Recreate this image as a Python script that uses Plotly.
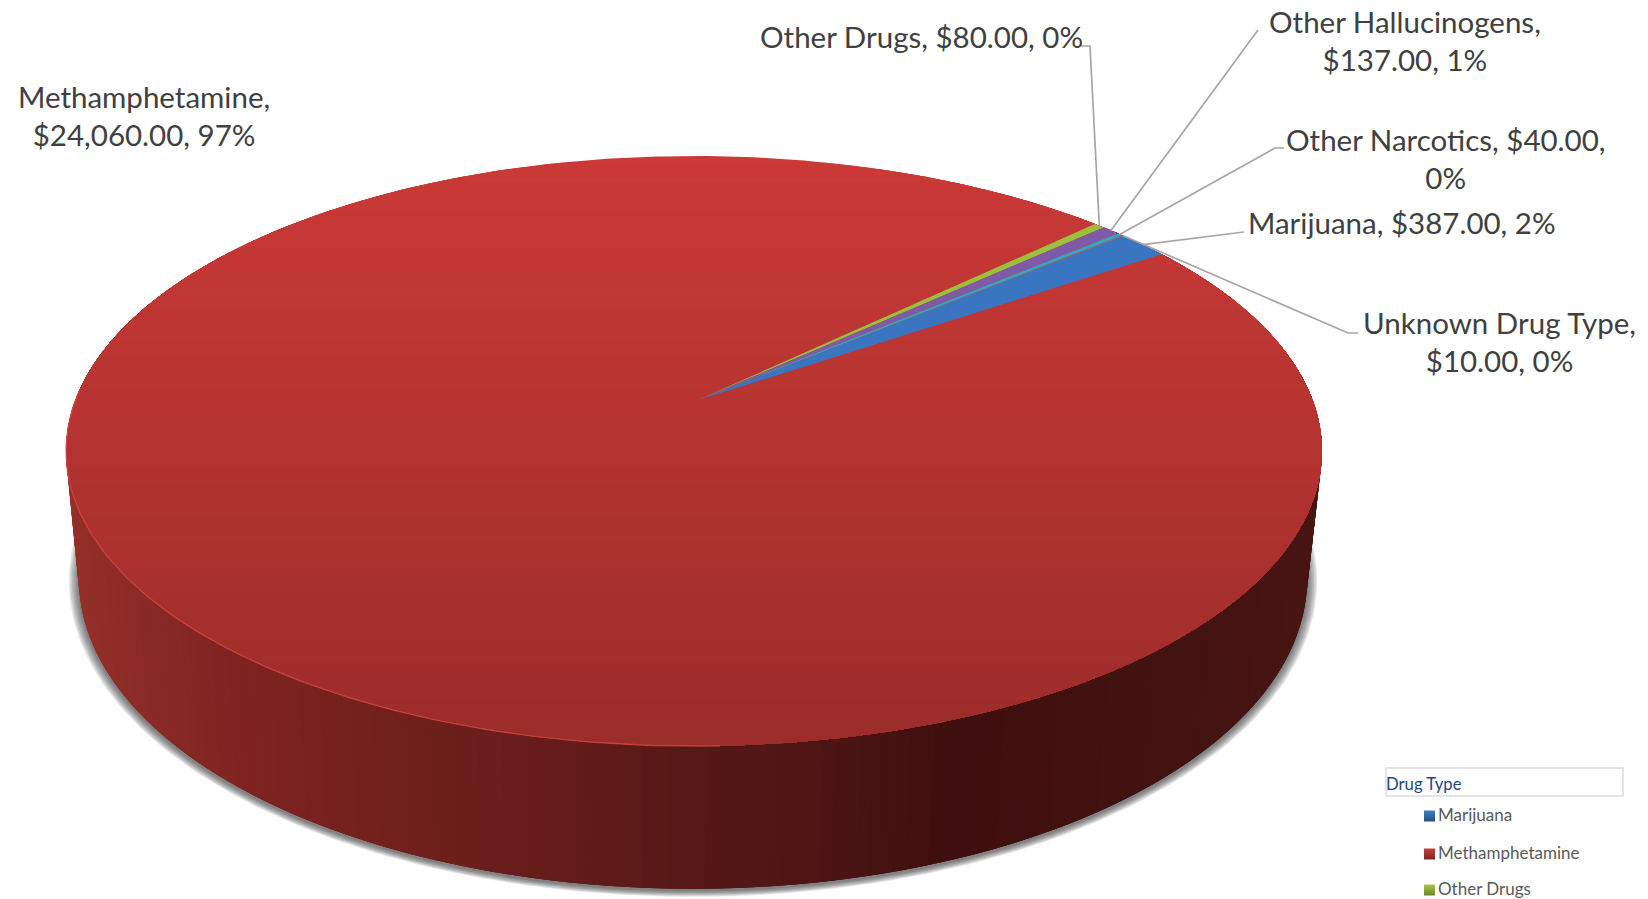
import numpy as np
import plotly.graph_objects as go

# ---- data ----
categories = ["Marijuana", "Methamphetamine", "Other Drugs", "Other Hallucinogens", "Other Narcotics", "Unknown Drug Type"]
amounts = [387, 24060, 80, 137, 40, 10]
percent_labels = ["2%", "97%", "0%", "1%", "0%", "0%"]
legend_items = ["Marijuana", "Methamphetamine", "Other Drugs"]
legend_title = "Drug Type"

# ---- styles and layout ----
W, H = 1648, 899
slice_colors = ["#3a75c2", "#bf3a37", "#9dc03c", "#7f5aa6", "#2fa9c8", "#d08a3e"]
legend_colors = ["#3f7fc4", "#c9403c", "#a6c84a"]
legend_dark = ["#23507f", "#7e2523", "#6c8428"]
first_angle = 50.4
APEX = (698.0, 400.0)
CX, CY_APEX = 694.0, 400.0
P, K, R = 0.1729, 286.2, 618.5
TOP_C = (694.0, 451.0)
BOT_C = (693.0, 579.0)
BOT_SX, BOT_SY = 0.978, 1.05

def rim(theta_deg):
    t = np.radians(np.asarray(theta_deg, float))
    u, v = np.sin(t), -np.cos(t)
    w = 1 - P * v
    return CX + R * u / w, CY_APEX + K * v / w

def bottom(theta_deg):
    x, y = rim(theta_deg)
    return BOT_C[0] + BOT_SX * (x - TOP_C[0]), BOT_C[1] + BOT_SY * (y - TOP_C[1])

fig = go.Figure()

def poly(xs, ys, color, name=None):
    fig.add_trace(go.Scatter(x=list(xs), y=list(ys), mode="lines", fill="toself", fillcolor=color,
                             line=dict(width=0), hoverinfo="skip", showlegend=False, name=name))

all_t = np.linspace(0, 360, 361)

# soft shadow under the pie
bx, by = bottom(all_t)
for d in [10, 8.5, 7, 5.5, 4, 2.5, 1]:
    sx = BOT_C[0] + (bx - BOT_C[0]) * (1 + d / 612)
    sy = BOT_C[1] + 2 + (by - BOT_C[1]) * (1 + d * 0.6 / 310)
    poly(sx, sy, "rgba(55,55,55,0.13)")

# side wall, painted left to right with overlap
side_x = [66, 100, 250, 500, 700, 850, 950, 1200, 1322]
side_r = [150, 143, 125, 105, 85, 75, 62, 68, 72]
side_g = [48, 45, 35, 30, 24, 20, 15, 20, 22]
side_b = [42, 40, 32, 27, 23, 20, 14, 18, 20]
angles = np.linspace(285, 75, 211)
tx0, ty0 = rim(angles)
bx0, by0 = bottom(angles)
for i in range(0, len(angles) - 1):
    j = min(i + 3, len(angles) - 1)
    xm = tx0[i]
    c = "rgb(%d,%d,%d)" % (np.interp(xm, side_x, side_r), np.interp(xm, side_x, side_g), np.interp(xm, side_x, side_b))
    seg = np.arange(i, j + 1)
    poly(np.r_[tx0[seg], bx0[seg[::-1]]], np.r_[ty0[seg], by0[seg[::-1]]], c)

# top face of the big slice: vertical gradient, each band painted to the bottom
fine = np.linspace(0, 360, 721)
fx, fy = rim(fine)
ymin, ymax = fy.min(), fy.max()
levels = np.linspace(ymin, ymax, 90)
for y0 in levels[:-1]:
    f = (y0 - ymin) / (ymax - ymin)
    c = "rgb(%d,%d,%d)" % (203 - 48 * f, 58 - 13 * f, 55 - 12 * f)
    m = fy >= y0
    order = np.argsort(np.arctan2(fy[m] - (y0 + ymax) / 2, fx[m] - TOP_C[0]))
    poly(fx[m][order], fy[m][order], c)

# rim highlight on the front-left edge
ha = np.linspace(272, 178, 95)
hx, hy = rim(ha)
fig.add_trace(go.Scatter(x=hx, y=hy, mode="lines", line=dict(color="rgba(214,72,64,0.75)", width=1.4),
                         hoverinfo="skip", showlegend=False))

# slices from values
total = sum(amounts)
angle = first_angle
mids = []
for name, val, col in zip(categories, amounts, slice_colors):
    sweep = 360 * val / total
    if name != "Methamphetamine":
        aa = np.linspace(angle, angle + sweep, max(3, int(sweep * 4) + 2))
        ax, ay = rim(aa)
        poly(np.r_[APEX[0], ax], np.r_[APEX[1], ay], col, name)
    mids.append(angle + sweep / 2)
    angle += sweep

# leader lines (elbow in pixels, end point on the rim at each slice's mid angle)
elbows = {
    "Other Drugs": [(1080, 46), (1090, 46)],
    "Other Hallucinogens": [(1258, 30)],
    "Other Narcotics": [(1284, 148), (1275, 148)],
    "Marijuana": [(1244, 232)],
    "Unknown Drug Type": [(1358, 333), (1348, 333)],
}
for name, mid in zip(categories, mids):
    if name in elbows:
        ex, ey = rim(mid)
        pts = elbows[name] + [(float(ex), float(ey))]
        fig.add_trace(go.Scatter(x=[p[0] for p in pts], y=[p[1] for p in pts], mode="lines",
                                 line=dict(color="#a6a6a6", width=1.7), hoverinfo="skip", showlegend=False))

# labels
def money(v):
    return "${:,.2f}".format(v)
lab = dict(zip(categories, zip(amounts, percent_labels)))
FS = 29.5
TXT = "#404040"
def text(x, y, s, size=FS, color=TXT, anchor="center"):
    fig.add_annotation(x=x, y=y, text=s, showarrow=False, xanchor=anchor, yanchor="middle", align="center",
                       font=dict(family="Lato", size=size, color=color))
text(144, 115, "Methamphetamine,<br>%s, %s" % (money(24060), lab["Methamphetamine"][1]))
text(921, 36, "Other Drugs, %s, %s" % (money(80), lab["Other Drugs"][1]))
text(1405, 40, "Other Hallucinogens,<br>%s, %s" % (money(137), lab["Other Hallucinogens"][1]))
text(1446, 158, "Other Narcotics, %s,<br>%s" % (money(40), lab["Other Narcotics"][1]))
text(1402, 222, "Marijuana, %s, %s" % (money(387), lab["Marijuana"][1]))
text(1499, 341, "Unknown Drug Type,<br>%s, %s" % (money(10), lab["Unknown Drug Type"][1]))

# legend
fig.add_shape(type="rect", x0=1386, y0=768, x1=1623, y1=796, line=dict(color="#dcdcdc", width=1.5))
text(1384, 784, legend_title, size=16.7, color="#1f497d", anchor="left")
leg_y = [816, 854, 890]
fig.add_trace(go.Scatter(x=[1429.5] * 3, y=leg_y, mode="markers",
                         marker=dict(symbol="square", size=11, color=legend_colors,
                                     gradient=dict(type="vertical", color=legend_dark), line=dict(width=0)),
                         hoverinfo="skip", showlegend=False))
for item, y in zip(legend_items, leg_y):
    text(1436, y - 2, item, size=17, color="#595959", anchor="left")

fig.update_layout(width=W, height=H, autosize=False, margin=dict(l=0, r=0, t=0, b=0),
                  paper_bgcolor="white", plot_bgcolor="white", showlegend=False,
                  xaxis=dict(range=[0, W], visible=False, fixedrange=True),
                  yaxis=dict(range=[H, 0], visible=False, fixedrange=True))
fig.write_html("out.html", post_script="document.body.style.margin='0';document.body.style.overflow='hidden';",
               config={"displayModeBar": False})
